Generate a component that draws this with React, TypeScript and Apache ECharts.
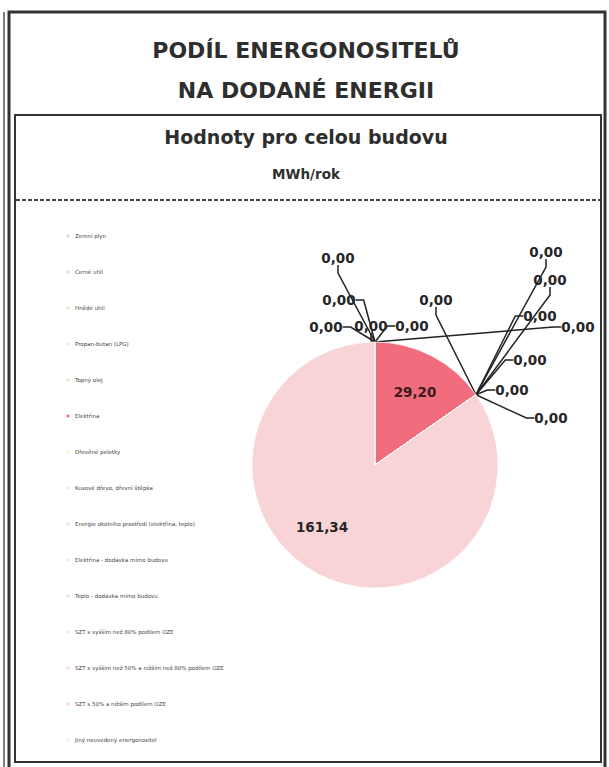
import React, { useEffect, useRef } from "react";
import * as echarts from "echarts";

const categories: string[] = [
  "Zemní plyn",
  "Černé uhlí",
  "Hnědé uhlí",
  "Propan-butan (LPG)",
  "Topný olej",
  "Elektřina",
  "Dřevěné peletky",
  "Kusové dřevo, dřevní štěpka",
  "Energie okolního prostředí (elektřina, teplo)",
  "Elektřina - dodávka mimo budovu",
  "Teplo - dodávka mimo budovu",
  "SZT s vyšším než 80% podílem OZE",
  "SZT s vyšším než 50% a nižším než 80% podílem OZE",
  "SZT s 50% a nižším podílem OZE",
  "Jiný neuvedený energonositel",
];

const values: number[] = [0, 0, 0, 0, 0, 29.2, 0, 0, 0, 0, 0, 0, 0, 161.34, 0];

const colors: string[] = [
  "#c9d8ee", "#d9d9d9", "#e8dccb", "#f3e3c3", "#e6e6cf",
  "#f16c7c", "#f3efc0", "#e3efd2", "#d6eee6", "#dbe7f3",
  "#ead9ec", "#f6e1e4", "#f1dadf", "#f8d4d7", "#eeeeee",
];

const titleLines: string[] = ["PODÍL ENERGONOSITELŮ", "NA DODANÉ ENERGII"];
const subTitle = "Hodnoty pro celou budovu";
const unitText = "MWh/rok";

// label anchor spots (annotation layout, not data)
const labelSpots: number[][] = [
  [338, 258], [339, 300], [326, 327], [371, 326], [412, 326],
  [415, 392],
  [436, 300], [546, 252], [550, 280], [540, 316], [530, 360], [512, 390], [551, 418],
  [322, 527],
  [578, 327],
];

const insideIdx = [5, 13];

export default function App() {
  const ref = useRef<HTMLDivElement>(null);
  useEffect(() => {
    if (!ref.current) return;
    const chart = echarts.init(ref.current, undefined, { renderer: "svg" });
    const font = "DejaVu Sans";
    const textColor = "#2e2e2e";
    const data = values.map((v, i) => {
      const inside = insideIdx.indexOf(i) >= 0;
      return {
        name: categories[i],
        value: v,
        itemStyle: { color: colors[i] },
        label: inside
          ? { position: "inside", color: i === 5 ? "#3b1a20" : "#262626" }
          : { position: "outside" },
        labelLine: { show: !inside },
      };
    });
    chart.setOption({
      animation: false,
      backgroundColor: "#ffffff",
      legend: {
        orient: "vertical",
        left: 60,
        top: 228,
        itemWidth: 4,
        itemHeight: 4,
        itemGap: 30,
        icon: "rect",
        data: categories,
        textStyle: {
          fontFamily: font,
          fontSize: 5.5,
          lineHeight: 6,
          color: "#444",
        },
      },
      graphic: [
        {
          type: "rect",
          shape: { x: 9, y: 12, width: 596, height: 780 },
          style: { fill: "none", stroke: "#333", lineWidth: 3 },
        },
        {
          type: "line",
          shape: { x1: 4, y1: 12, x2: 4, y2: 767 },
          style: { stroke: "#555", lineWidth: 1.5 },
        },
        {
          type: "rect",
          shape: { x: 15, y: 115, width: 586, height: 647 },
          style: { fill: "none", stroke: "#333", lineWidth: 2 },
        },
        {
          type: "line",
          shape: { x1: 16, y1: 200, x2: 600, y2: 200 },
          style: { stroke: "#444", lineWidth: 2, lineDash: [4, 2] },
        },
        {
          type: "text",
          x: 306,
          y: 50,
          style: {
            text: titleLines[0],
            fill: textColor,
            font: `bold 22px "${font}"`,
            textAlign: "center",
            textVerticalAlign: "middle",
          },
        },
        {
          type: "text",
          x: 306,
          y: 90,
          style: {
            text: titleLines[1],
            fill: textColor,
            font: `bold 22px "${font}"`,
            textAlign: "center",
            textVerticalAlign: "middle",
          },
        },
        {
          type: "text",
          x: 306,
          y: 137,
          style: {
            text: subTitle,
            fill: textColor,
            font: `bold 19px "${font}"`,
            textAlign: "center",
            textVerticalAlign: "middle",
          },
        },
        {
          type: "text",
          x: 306,
          y: 174,
          style: {
            text: unitText,
            fill: textColor,
            font: `bold 13.5px "${font}"`,
            textAlign: "center",
            textVerticalAlign: "middle",
          },
        },
      ],
      series: [
        {
          type: "pie",
          center: [375, 465],
          radius: 123,
          startAngle: 90,
          clockwise: true,
          avoidLabelOverlap: false,
          legendHoverLink: false,
          itemStyle: { borderColor: "rgba(255,255,255,0.7)", borderWidth: 1 },
          label: {
            show: true,
            fontFamily: font,
            fontWeight: "bold",
            fontSize: 13.5,
            color: "#262626",
            formatter: (p: any) => Number(p.value).toFixed(2).replace(".", ","),
          },
          labelLine: {
            show: true,
            length: 10,
            length2: 8,
            lineStyle: { color: "#222", width: 1.5 },
          },
          labelLayout: (p: any) => {
            const s = labelSpots[p.dataIndex];
            return { x: s[0], y: s[1], align: "center", verticalAlign: "middle" };
          },
          data,
        },
      ],
    });
    return () => chart.dispose();
  }, []);
  return (
    <div
      ref={ref}
      style={{ position: "fixed", left: 0, top: 0, width: 609, height: 767 }}
    />
  );
}
